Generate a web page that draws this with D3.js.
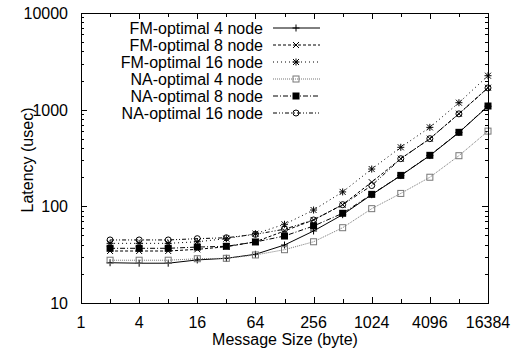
<!DOCTYPE html>
<html>
<head>
<meta charset="utf-8">
<script src="https://cdnjs.cloudflare.com/ajax/libs/d3/7.8.5/d3.min.js"></script>
<style>
  body { margin: 0; background: #fff; }
  text { font-family: "Liberation Sans", Arial, sans-serif; font-size: 16px; fill: #000; }
</style>
</head>
<body>
<script>
// message sizes (byte)
var sizes = [2, 4, 8, 16, 32, 64, 128, 256, 512, 1024, 2048, 4096, 8192, 16384];

// latency (usec) per series
var fm4  = [26.1, 25.8, 25.8, 27.9, 29, 31.9, 39.8, 55.6, 82, 132, 208, 335, 580, 1085];
var fm8  = [34.5, 34.5, 34.5, 35.9, 38.2, 43, 55.6, 72.3, 104, 178, 311, 501, 908, 1687];
var fm16 = [41.4, 41.4, 41.4, 43, 46.3, 52.1, 65.2, 91.6, 141, 243, 408, 656, 1180, 2245];
var na4  = [27.7, 27.7, 27.7, 28.7, 29, 31.4, 35.6, 43, 60.1, 94.6, 136, 200, 334, 600];
var na8  = [36.8, 36.8, 36.8, 37.9, 38.6, 42.8, 49.3, 62.6, 84.7, 133, 209, 337, 583, 1091];
var na16 = [44.9, 44.9, 44.9, 46.3, 47.3, 51.3, 58, 72.3, 104, 164, 311, 501, 905, 1680];

var names = ["FM-optimal 4 node", "FM-optimal 8 node", "FM-optimal 16 node",
             "NA-optimal 4 node", "NA-optimal 8 node", "NA-optimal 16 node"];

var xTicks = [1, 4, 16, 64, 256, 1024, 4096, 16384];
var yTicks = [10, 100, 1000, 10000];

var w = 512;
var h = 351;

var series = [
  {name: names[0], values: fm4,  color: "#000", dash: null,          marker: "plus"},
  {name: names[1], values: fm8,  color: "#000", dash: "3,2",         marker: "cross"},
  {name: names[2], values: fm16, color: "#000", dash: "1,3",         marker: "star"},
  {name: names[3], values: na4,  color: "#777", dash: "1,1",         marker: "square"},
  {name: names[4], values: na8,  color: "#000", dash: "5,2,1,2",     marker: "fsquare"},
  {name: names[5], values: na16, color: "#000", dash: "4,2,1,2,1,2", marker: "circle"}
];

var svg = d3.select("body").append("svg")
  .attr("width", w)
  .attr("height", h);

var pLeft = 81, pRight = 488, pTop = 13, pBottom = 303;

var x = d3.scaleLog().base(2).domain([1, 16384]).range([pLeft, pRight]);
var y = d3.scaleLog().base(10).domain([10, 10000]).range([pBottom, pTop]);

// ticks on all four sides
var minorX = d3.range(0, 15).map(function(i) { return Math.pow(2, i); });
var minorY = [];
[10, 100, 1000].forEach(function(d) {
  for (var k = 1; k < 10; k++) minorY.push(d * k);
});
minorY.push(10000);

var ticks = svg.append("g").attr("stroke", "#000").attr("stroke-width", 1);
minorX.forEach(function(v, i) {
  var len = (i % 2 == 0) ? 6 : 4;
  var px = Math.round(x(v)) + 0.5;
  ticks.append("line").attr("x1", px).attr("x2", px).attr("y1", pBottom).attr("y2", pBottom - len);
  ticks.append("line").attr("x1", px).attr("x2", px).attr("y1", pTop).attr("y2", pTop + len);
});
minorY.forEach(function(v) {
  var major = yTicks.indexOf(v) >= 0;
  var len = major ? 6 : 3;
  var py = Math.round(y(v)) + 0.5;
  ticks.append("line").attr("x1", pLeft).attr("x2", pLeft + len).attr("y1", py).attr("y2", py);
  ticks.append("line").attr("x1", pRight).attr("x2", pRight - len).attr("y1", py).attr("y2", py);
});

// tick labels
svg.selectAll(".xl").data(xTicks).enter().append("text")
  .attr("x", function(d) { return x(d); })
  .attr("y", 328)
  .attr("text-anchor", "middle")
  .text(function(d) { return d; });

svg.selectAll(".yl").data(yTicks).enter().append("text")
  .attr("x", 68)
  .attr("y", function(d) { return y(d) + 6; })
  .attr("text-anchor", "end")
  .text(function(d) { return d; });

svg.append("text")
  .attr("x", 285)
  .attr("y", 345)
  .attr("text-anchor", "middle")
  .text("Message Size (byte)");

svg.append("text")
  .attr("transform", "translate(33,160) rotate(-90)")
  .attr("text-anchor", "middle")
  .text("Latency (usec)");

function drawMarker(g, type, cx, cy, color) {
  var s = 3.5;
  if (type == "plus") {
    g.append("path").attr("d", "M" + (cx - s) + "," + cy + "H" + (cx + s) + "M" + cx + "," + (cy - s) + "V" + (cy + s))
      .attr("stroke", color).attr("fill", "none");
  } else if (type == "cross") {
    g.append("path").attr("d", "M" + (cx - 3) + "," + (cy - 3) + "L" + (cx + 3) + "," + (cy + 3) + "M" + (cx - 3) + "," + (cy + 3) + "L" + (cx + 3) + "," + (cy - 3))
      .attr("stroke", color).attr("fill", "none");
  } else if (type == "star") {
    g.append("path").attr("d", "M" + (cx - 3) + "," + (cy - 3) + "L" + (cx + 3) + "," + (cy + 3) + "M" + (cx - 3) + "," + (cy + 3) + "L" + (cx + 3) + "," + (cy - 3) +
        "M" + (cx - s) + "," + cy + "H" + (cx + s) + "M" + cx + "," + (cy - s) + "V" + (cy + s))
      .attr("stroke", color).attr("fill", "none");
  } else if (type == "square") {
    g.append("rect").attr("x", cx - 3).attr("y", cy - 3).attr("width", 6).attr("height", 6)
      .attr("stroke", color).attr("fill", "none");
  } else if (type == "fsquare") {
    g.append("rect").attr("x", cx - 3.5).attr("y", cy - 3.5).attr("width", 7).attr("height", 7)
      .attr("fill", color);
  } else if (type == "circle") {
    g.append("circle").attr("cx", cx).attr("cy", cy).attr("r", 3)
      .attr("stroke", color).attr("fill", "none");
  }
}

var line = d3.line()
  .x(function(d, i) { return x(sizes[i]); })
  .y(function(d) { return y(d); });

series.forEach(function(s, k) {
  var g = svg.append("g");
  g.append("path")
    .attr("d", line(s.values))
    .attr("fill", "none")
    .attr("stroke", s.color)
    .attr("stroke-width", 1)
    .attr("stroke-dasharray", s.dash);
  s.values.forEach(function(v, i) {
    drawMarker(g, s.marker, x(sizes[i]), y(v), s.color);
  });

  // legend entry
  var ly = 28 + k * 17;
  svg.append("text")
    .attr("x", 263)
    .attr("y", ly + 6)
    .attr("text-anchor", "end")
    .text(s.name);
  svg.append("line")
    .attr("x1", 273).attr("x2", 320)
    .attr("y1", ly).attr("y2", ly)
    .attr("stroke", s.color)
    .attr("stroke-dasharray", s.dash);
  drawMarker(svg, s.marker, 296, ly, s.color);
});

// frame
svg.append("rect")
  .attr("x", pLeft + 0.5).attr("y", pTop + 0.5)
  .attr("width", pRight - pLeft).attr("height", pBottom - pTop)
  .attr("fill", "none")
  .attr("stroke", "#000");
</script>
</body>
</html>
